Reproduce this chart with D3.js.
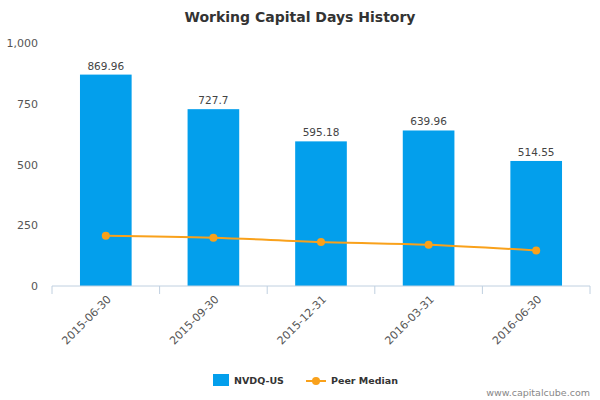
<!DOCTYPE html>
<html><head><meta charset="utf-8">
<script src="https://cdn.jsdelivr.net/npm/d3@7"></script>
<style>body{margin:0;background:#fff}text{font-family:"DejaVu Sans",sans-serif}</style>
</head><body><svg id="c" width="600" height="400"></svg>
<script>
const categories=["2015-06-30","2015-09-30","2015-12-31","2016-03-31","2016-06-30"];
const barValues=[869.96,727.7,595.18,639.96,514.55];
const barLabels=["869.96","727.7","595.18","639.96","514.55"];
const peerValues=[207,199,181,170,146];
const yTicks=[0,250,500,750,1000];

const svg=d3.select("#c");
const L=52,R=590,T=43,B=286;
const x=d3.scaleBand().domain(categories).range([L,R]).paddingInner(0.52).paddingOuter(0.26);
const y=d3.scaleLinear().domain([0,1000]).range([B,T]);

svg.append("text").attr("x",300).attr("y",22).attr("text-anchor","middle")
 .attr("font-size",14).attr("font-weight","bold").attr("fill","#333").text("Working Capital Days History");

const ya=svg.append("g").attr("transform",`translate(${L},0)`)
 .call(d3.axisLeft(y).tickValues(yTicks).tickSize(0).tickPadding(14));
ya.select(".domain").remove();
ya.selectAll("text").attr("font-size",11).attr("fill","#555");

svg.selectAll("rect.b").data(categories).enter().append("rect")
 .attr("x",d=>x(d)).attr("width",x.bandwidth())
 .attr("y",(d,i)=>y(barValues[i])).attr("height",(d,i)=>B-y(barValues[i]))
 .attr("fill","#039fec");
svg.selectAll("text.v").data(categories).enter().append("text")
 .attr("x",d=>x(d)+x.bandwidth()/2).attr("y",(d,i)=>y(barValues[i])-5)
 .attr("text-anchor","middle").attr("font-size",10.5).attr("fill","#444")
 .text((d,i)=>barLabels[i]);

const step=x.step();
const xa=svg.append("g").attr("transform",`translate(0,${B})`);
xa.append("line").attr("x1",L).attr("x2",R).attr("stroke","#c0d0e0");
const bounds=[L].concat(categories.map(c=>x(c)+x.bandwidth()/2+step/2));
xa.selectAll("line.t").data(bounds).enter().append("line")
 .attr("x1",d=>d).attr("x2",d=>d).attr("y1",0).attr("y2",8).attr("stroke","#c0d0e0");
xa.selectAll("text").data(categories).enter().append("text")
 .attr("transform",d=>`translate(${x(d)+x.bandwidth()/2+6},${14}) rotate(-45)`)
 .attr("text-anchor","end").attr("font-size",11).attr("fill","#555").text(d=>d);

const line=d3.line().x((d,i)=>x(categories[i])+x.bandwidth()/2).y(d=>y(d)).curve(d3.curveMonotoneX);
svg.append("path").datum(peerValues).attr("d",line).attr("fill","none").attr("stroke","#f9a11b").attr("stroke-width",2);
svg.selectAll("circle.p").data(peerValues).enter().append("circle")
 .attr("cx",(d,i)=>x(categories[i])+x.bandwidth()/2).attr("cy",d=>y(d)).attr("r",4).attr("fill","#f9a11b");

const lg=svg.append("g");
lg.append("rect").attr("x",213).attr("y",374).attr("width",16).attr("height",12).attr("fill","#039fec");
lg.append("text").attr("x",234).attr("y",384).attr("font-size",9.5).attr("font-weight","bold").attr("fill","#333").text("NVDQ-US");
lg.append("line").attr("x1",306).attr("x2",326).attr("y1",381).attr("y2",381).attr("stroke","#f9a11b").attr("stroke-width",2);
lg.append("circle").attr("cx",316).attr("cy",381).attr("r",4).attr("fill","#f9a11b");
lg.append("text").attr("x",331).attr("y",384).attr("font-size",9.5).attr("font-weight","bold").attr("fill","#333").text("Peer Median");
svg.append("text").attr("x",590).attr("y",396).attr("text-anchor","end").attr("font-size",9.5).attr("fill","#888").text("www.capitalcube.com");
</script></body></html>
